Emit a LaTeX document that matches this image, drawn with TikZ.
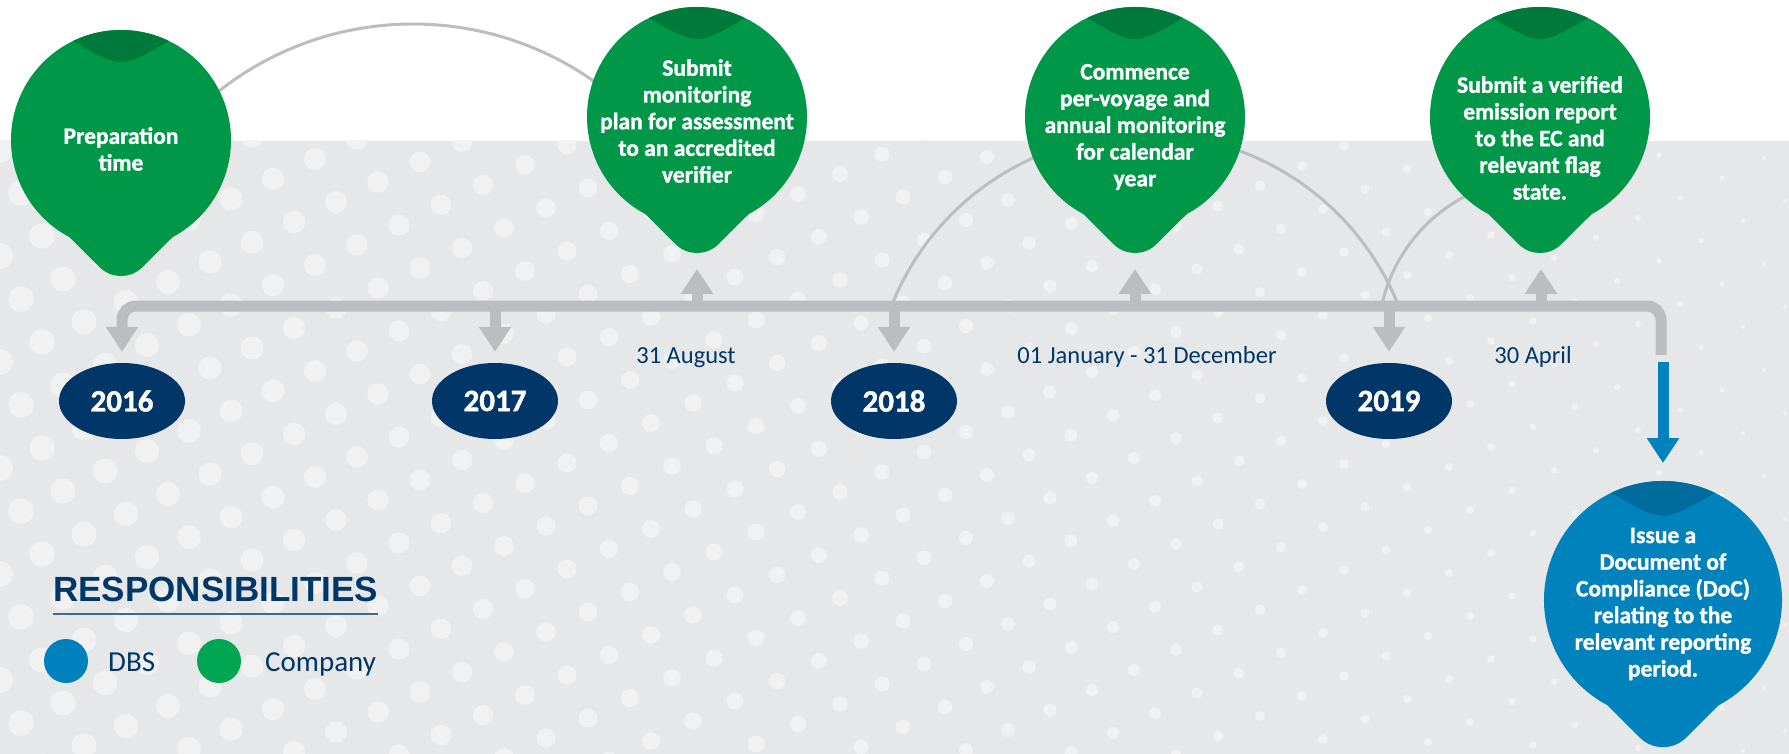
\documentclass[tikz,border=0pt]{standalone}
\usepackage{fontspec}
\setmainfont{Carlito}[BoldFeatures={FakeBold=1.3}]
\newfontfamily\lsans{Liberation Sans}
\usetikzlibrary{arrows.meta,shapes.geometric,calc}

\definecolor{pingreen}{RGB}{0,152,72}
\definecolor{capgreen}{RGB}{0,122,58}
\definecolor{pinblue}{RGB}{0,130,188}
\definecolor{capblue}{RGB}{0,108,158}
\definecolor{navy}{RGB}{0,55,104}
\definecolor{bargray}{RGB}{188,189,192}
\definecolor{bggray}{RGB}{230,231,232}
\definecolor{dotgray}{RGB}{241,241,242}
\definecolor{leggreen}{RGB}{0,166,81}
\definecolor{legblue}{RGB}{0,128,188}

\newcommand\drawpin[5]{%
  \begin{scope}[shift={(#1,-#2)},scale=#3]
    \fill[#4] (51.64,-97.12) -- (21.5,-127.1) .. controls (9.6,-139) and (-9.6,-139) .. (-21.5,-127.1)
      -- (-51.64,-97.12) arc[start angle=242,end angle=-62,radius=110] -- cycle;
    \fill[#5] (47.9,99) arc[start angle=64.2,end angle=115.8,radius=110]
      .. controls (0,71) .. (47.9,99) -- cycle;
  \end{scope}}

\tikzset{
  barline/.style={draw=bargray, line width=11pt},
  bartip/.style={-{Triangle[width=31pt,length=25pt]}},
  arcline/.style={draw=bargray, line width=3pt},
  pintext/.style={text=white, font=\bfseries\fontsize{23.5}{26.7}\selectfont, align=center, inner sep=0pt},
  yearnode/.style={ellipse, fill=navy, text=white, minimum width=126pt, minimum height=76pt, inner sep=0pt,
    font=\bfseries\fontsize{31}{32}\selectfont},
  datetext/.style={text=navy, font=\fontsize{24.5}{26}\selectfont, inner sep=0pt, anchor=base},
  legtext/.style={text=navy, font=\fontsize{29}{30}\selectfont, inner sep=0pt, anchor=base west},
  legdot/.style={circle, minimum size=44pt, inner sep=0pt}
}

\begin{document}
\begin{tikzpicture}[x=1pt,y=1pt]
\useasboundingbox (0,0) rectangle (1789,-754);
\fill[white] (0,0) rectangle (1789,-754);
\fill[bggray] (0,-141) rectangle (1789,-754);

% dotted pattern
\begin{scope}
\clip (0,-141) rectangle (1789,-754);
\foreach \j in {-3,...,32} {
  \pgfmathtruncatemacro\kk{floor(0.4*\j)}
  \foreach \i in {-1,...,18} {
    \pgfmathsetmacro\xx{-42*\j+105*(\kk+\i)}
    \pgfmathsetmacro\yy{-(150+20*\j+3*(\kk+\i))}
    \pgfmathsetmacro\rr{max(1.5,13-0.00615*\xx)}
    \fill[dotgray] (\xx,\yy) circle[radius=\rr];
  }
}
\end{scope}

% thin arcs
\draw[arcline] (413,-338) ++(135:314) arc[start angle=135,end angle=45,radius=314];
\draw[arcline] (1145,-407) ++(158.3:273) arc[start angle=158.3,end angle=21.7,radius=273];
\draw[arcline] (1540,-340) ++(167.9:162) arc[start angle=167.9,end angle=110,radius=162];

% pins
\drawpin{121}{140}{1}{pingreen}{capgreen}
\drawpin{697}{117}{1}{pingreen}{capgreen}
\drawpin{1135}{117}{1}{pingreen}{capgreen}
\drawpin{1540}{117}{1}{pingreen}{capgreen}
\drawpin{1663}{600}{1.082}{pinblue}{capblue}

\coordinate (t2) at (697,-253);
\coordinate (t3) at (1135,-253);
\coordinate (t4) at (1541,-253);
\coordinate (btop) at (1663,-481);

% pin texts
\node[pintext] (n1) at (121,-149) {Preparation\\time};
\node[pintext] (n2) at (697,-121) {Submit\\monitoring\\plan for assessment\\to an accredited\\verifier};
\node[pintext] (n3) at (1135,-127) {Commence\\per-voyage and\\annual monitoring\\for calendar\\year};
\node[pintext] (n4) at (1540,-138) {Submit a verified\\emission report\\to the EC and\\relevant flag\\state.};
\node[pintext] (n5) at (1663,-604) {Issue a\\Document of\\Compliance (DoC)\\relating to the\\relevant reporting\\period.};

% years
\node[yearnode] (y2016) at (122,-401) {2016};
\node[yearnode] (y2017) at (495,-401) {2017};
\node[yearnode] (y2018) at (894,-401) {2018};
\node[yearnode] (y2019) at (1389,-401) {2019};

% timeline bar
\coordinate (lc) at (122,-306);
\coordinate (rc) at (1661,-306);
\coordinate (rend) at (1661,-355);
\draw[barline, bartip, rounded corners=14pt, shorten >=11pt] (rend) -- (rc) -- (lc) -- (y2016.north);
\draw[barline, bartip, shorten >=11pt] (y2017.north |- lc) -- (y2017.north);
\draw[barline, bartip, shorten >=11pt] (y2018.north |- lc) -- (y2018.north);
\draw[barline, bartip, shorten >=11pt] (y2019.north |- lc) -- (y2019.north);
\draw[barline, bartip, shorten >=16pt] (t2 |- lc) -- (t2);
\draw[barline, bartip, shorten >=16pt] (t3 |- lc) -- (t3);
\draw[barline, bartip, shorten >=16pt] (t4 |- lc) -- (t4);

% blue arrow
\coordinate (bstart) at (1663,-362);
\draw[draw=pinblue, line width=11pt, -{Triangle[width=31pt,length=25pt]}, shorten >=18pt] (bstart) -- (btop);

% dates
\node[datetext] (d1) at (686,-363) {31 August};
\node[datetext] (d2) at (1147,-363) {01 January - 31 December};
\node[datetext] (d3) at (1533,-363) {30 April};

% legend
\node[anchor=base west, inner sep=0pt, text=navy, font=\lsans\bfseries\fontsize{35}{40}\selectfont] (resp) at (53,-601) {RESPONSIBILITIES};
\draw[navy!75, line width=1.5pt] (resp.west |- 0,-614) -- (resp.east |- 0,-614);
\node[legdot, fill=legblue] (ldbs) at (66,-661) {};
\node[legtext] (tdbs) at (108,-671) {DBS};
\node[legdot, fill=leggreen] (lcomp) at (219,-661) {};
\node[legtext] (tcomp) at (265,-671) {Company};
\end{tikzpicture}
\end{document}
